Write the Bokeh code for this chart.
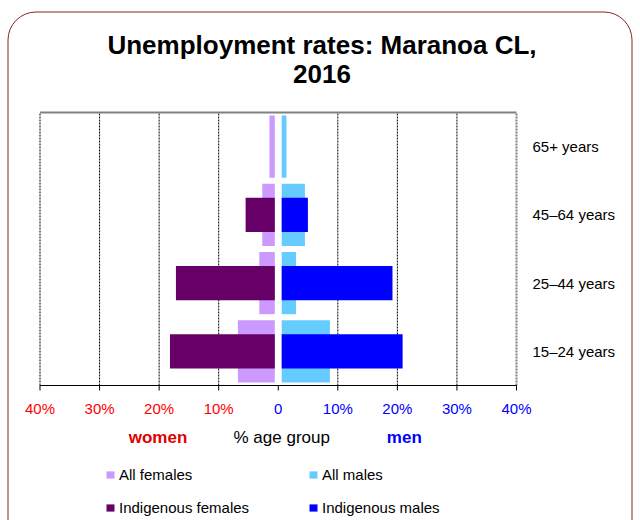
import math
from bokeh.plotting import figure
from bokeh.models import Range1d, ColumnDataSource, Legend, LegendItem
from bokeh.core.properties import value
from bokeh.embed import file_html
from bokeh.resources import INLINE

# ---- data ----
categories = ["15–24 years", "25–44 years", "45–64 years", "65+ years"]
all_females = [6.2, 2.6, 2.1, 0.9]
indig_females = [17.6, 16.6, 4.9, float("nan")]
all_males = [8.1, 2.4, 3.9, 0.8]
indig_males = [20.3, 18.6, 4.4, float("nan")]
tick_values = [-40, -30, -20, -10, 0, 10, 20, 30, 40]
tick_labels = ["40%", "30%", "20%", "10%", "0", "10%", "20%", "30%", "40%"]
tick_colors = ["#FF0000"] * 4 + ["#0000FF"] * 5
grid_values = [-40, -30, -20, -10, 10, 20, 30]
title_lines = ["Unemployment rates: Maranoa CL,", "2016"]
captions = ["women", "% age group", "men"]

FONT = "Liberation Sans"
W, H = 640, 520
# layout helpers: canvas pixel -> data units (x in %, y in category bands)
PX_PER_PCT = 5.956
ZERO_PX = 277.75
BAND_PX = 68.25
BASE_PX = 385.0


def X(px):
    return (px - ZERO_PX) / PX_PER_PCT


def Y(py):
    return (BASE_PX - py) / BAND_PX


GAP = X(281.2)  # half of the white centre gap, in %
n = len(categories)
cat_y = [i + 0.5 for i in range(n)]

src = ColumnDataSource(dict(
    y=cat_y,
    af_l=[-(GAP + v) for v in all_females], af_r=[-GAP] * n,
    if_l=[-(GAP + v) for v in indig_females], if_r=[-GAP] * n,
    am_l=[GAP] * n, am_r=[GAP + v for v in all_males],
    im_l=[GAP] * n, im_r=[GAP + v for v in indig_males],
))

p = figure(width=W, height=H, output_backend="svg", toolbar_location=None,
           x_range=Range1d(X(0), X(W)), y_range=Range1d(Y(H), Y(0)),
           x_axis_location=None, y_axis_location=None,
           min_border=0, min_border_left=0, min_border_right=0,
           min_border_top=0, min_border_bottom=0)
p.grid.visible = False
p.outline_line_color = None
p.background_fill_color = "white"
p.border_fill_color = "white"

# frame decorations: grid lines, top border
top = float(n)
p.segment(x0=grid_values, y0=[0] * len(grid_values), x1=grid_values, y1=[top] * len(grid_values),
          line_color="#000000", line_width=1, line_dash="2 1")
p.segment(x0=[tick_values[-1]], y0=[0], x1=[tick_values[-1]], y1=[top],
          line_color="#808080", line_width=2, line_dash="2 1")
p.segment(x0=[tick_values[0]], y0=[top], x1=[tick_values[-1]], y1=[top],
          line_color="#808080", line_width=2)

# bars
r_af = p.hbar(y="y", left="af_l", right="af_r", height=0.91, source=src,
              fill_color="#CC99FF", line_color=None)
r_am = p.hbar(y="y", left="am_l", right="am_r", height=0.91, source=src,
              fill_color="#66CCFF", line_color=None)
r_if = p.hbar(y="y", left="if_l", right="if_r", height=0.5, source=src,
              fill_color="#660066", line_color=None)
r_im = p.hbar(y="y", left="im_l", right="im_r", height=0.5, source=src,
              fill_color="#0000FF", line_color=None)

# bottom axis line and ticks
p.segment(x0=[tick_values[0]], y0=[0], x1=[tick_values[-1]], y1=[0],
          line_color="#000000", line_width=1)
p.segment(x0=tick_values, y0=[0] * len(tick_values), x1=tick_values,
          y1=[Y(BASE_PX + 5)] * len(tick_values), line_color="#000000", line_width=1)
p.text(x=tick_values, y=[Y(408.3)] * len(tick_values), text=tick_labels,
       text_color=tick_colors, text_align="center", text_baseline="middle",
       text_font=value(FONT), text_font_size="15px")

# category labels on the right
p.text(x=[X(532)] * n, y=cat_y, text=categories, text_color="#000000",
       text_align="left", text_baseline="middle",
       text_font=value(FONT), text_font_size="15px")

# title
p.text(x=[X(321.5), X(321.5)], y=[Y(44), Y(73.5)], text=title_lines,
       text_color="#000000", text_align="center", text_baseline="middle",
       text_font=value(FONT), text_font_size="26px", text_font_style="bold")

# captions under the axis
p.text(x=[X(157.5)], y=[Y(437)], text=[captions[0]], text_color="#E00000",
       text_align="center", text_baseline="middle", text_font=value(FONT),
       text_font_size="17px", text_font_style="bold")
p.text(x=[X(281.2)], y=[Y(437)], text=[captions[1]], text_color="#000000",
       text_align="center", text_baseline="middle", text_font=value(FONT),
       text_font_size="17px")
p.text(x=[X(403.8)], y=[Y(437)], text=[captions[2]], text_color="#0000FF",
       text_align="center", text_baseline="middle", text_font=value(FONT),
       text_font_size="17px", text_font_style="bold")

# rounded outer border (top corners only, bottom runs off the page)
R = 28
left_px, right_px, top_px = 7.5, 631.5, 11.5
p.segment(x0=[X(left_px), X(right_px)], y0=[Y(top_px + R)] * 2,
          x1=[X(left_px), X(right_px)], y1=[Y(H + 20)] * 2,
          line_color="#8B2323", line_width=1)
p.segment(x0=[X(left_px + R)], y0=[Y(top_px)], x1=[X(right_px - R)], y1=[Y(top_px)],
          line_color="#8B2323", line_width=1)
p.arc(x=[X(left_px + R), X(right_px - R)], y=[Y(top_px + R)] * 2, radius=R,
      radius_units="screen", start_angle=[math.pi / 2, 0], end_angle=[math.pi, math.pi / 2],
      line_color="#8B2323", line_width=1)


# legends
def make_legend(items, xloc):
    return Legend(items=items, location=(xloc, 4), orientation="vertical",
                  glyph_width=10, glyph_height=9, label_standoff=4, label_height=16,
                  spacing=16, padding=0, margin=0, border_line_color=None,
                  background_fill_alpha=0, label_text_font=FONT,
                  label_text_font_size="15px", label_text_color="#000000")


p.add_layout(make_legend([LegendItem(label="All females", renderers=[r_af]),
                          LegendItem(label="Indigenous females", renderers=[r_if])], 105))
p.add_layout(make_legend([LegendItem(label="All males", renderers=[r_am]),
                          LegendItem(label="Indigenous males", renderers=[r_im])], 308))

open("out.html", "w").write(file_html(p, INLINE))
